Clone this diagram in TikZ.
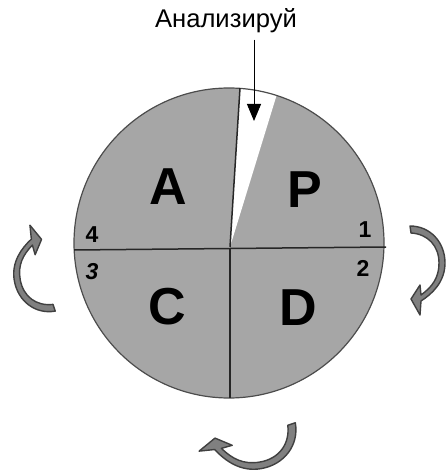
\documentclass[tikz,border=0pt]{standalone}
\usepackage{fontspec}
\setmainfont{Liberation Sans}
\usetikzlibrary{arrows.meta,calc}

\tikzset{
  turn/.pic={
    \draw[pic actions] (-2,-36) .. controls (18,-36) and (33,-20) .. (33,1)
      .. controls (33,20) and (20,32) .. (9,39) -- (8,53) -- (-1,37) -- (8,23)
      -- (9,33) .. controls (20,25) and (27,16) .. (27,1)
      .. controls (27,-16) and (16,-28) .. (-1,-29) -- cycle;
  }
}

\begin{document}
\begin{tikzpicture}[
  x=0.5pt, y=-0.5pt,
  quad/.style={font=\fontsize{26}{26}\selectfont\bfseries, inner sep=0pt},
  num/.style={font=\fontsize{11.5}{12}\selectfont\bfseries, inner sep=0pt},
  title/.style={font=\fontsize{12.8}{14}\selectfont, inner sep=0pt},
  divider/.style={draw=black!85, line width=0.75pt},
  turnarrow/.style={fill=black!50, draw=black!75, line width=0.7pt, line join=round},
]
  \useasboundingbox (0,0) rectangle (446,470);

  % Circle and white gap
  \coordinate (c) at (229,243);
  \coordinate (apex) at (230,247);
  \coordinate (lt) at (240,88);
  \coordinate (rt) at (277,94);
  \fill[black!35] (c) circle (155);
  \begin{scope}
    \clip (c) circle (155);
    \fill[white] (apex) -- ($(apex)!1.1!(lt)$) -- ($(apex)!1.1!(rt)$) -- cycle;
  \end{scope}
  \draw[black!70, line width=0.6pt] (c) circle (155);
  \draw[divider] (apex) -- (lt);
  \draw[divider] (74,250) -- (386,247);
  \draw[divider] (230,249) -- (230,398);

  % Title and pointer
  \node[title, anchor=base] (title) at (226,28) {Анализируй};
  \coordinate (gap) at (254,121);
  \draw[-{Triangle[length=8.5pt, width=7pt]}, line width=0.5pt, shorten <=3pt]
    (gap |- title.south) -- (gap);

  % Quarters
  \node[quad] (act) at (168,187) {A};
  \node[quad] (plan) at (305,190) {P};
  \node[quad] (check) at (167,307) {C};
  \node[quad] (do) at (298,308) {D};

  % Numbers
  \node[num] (n1) at (365,230) {1};
  \node[num] (n2) at (363,268) {2};
  \node[num, font=\fontsize{11.5}{12}\selectfont\bfseries\itshape] (n3) at (92,272) {3};
  \node[num] (n4) at (92,235) {4};

  % Turning arrows
  \pic[turnarrow] at (412,262) {turn};
  \pic[turnarrow, rotate=-80, scale=1.12] at (256,432) {turn};
  \pic[turnarrow, rotate=190] at (47,276) {turn};
\end{tikzpicture}
\end{document}
